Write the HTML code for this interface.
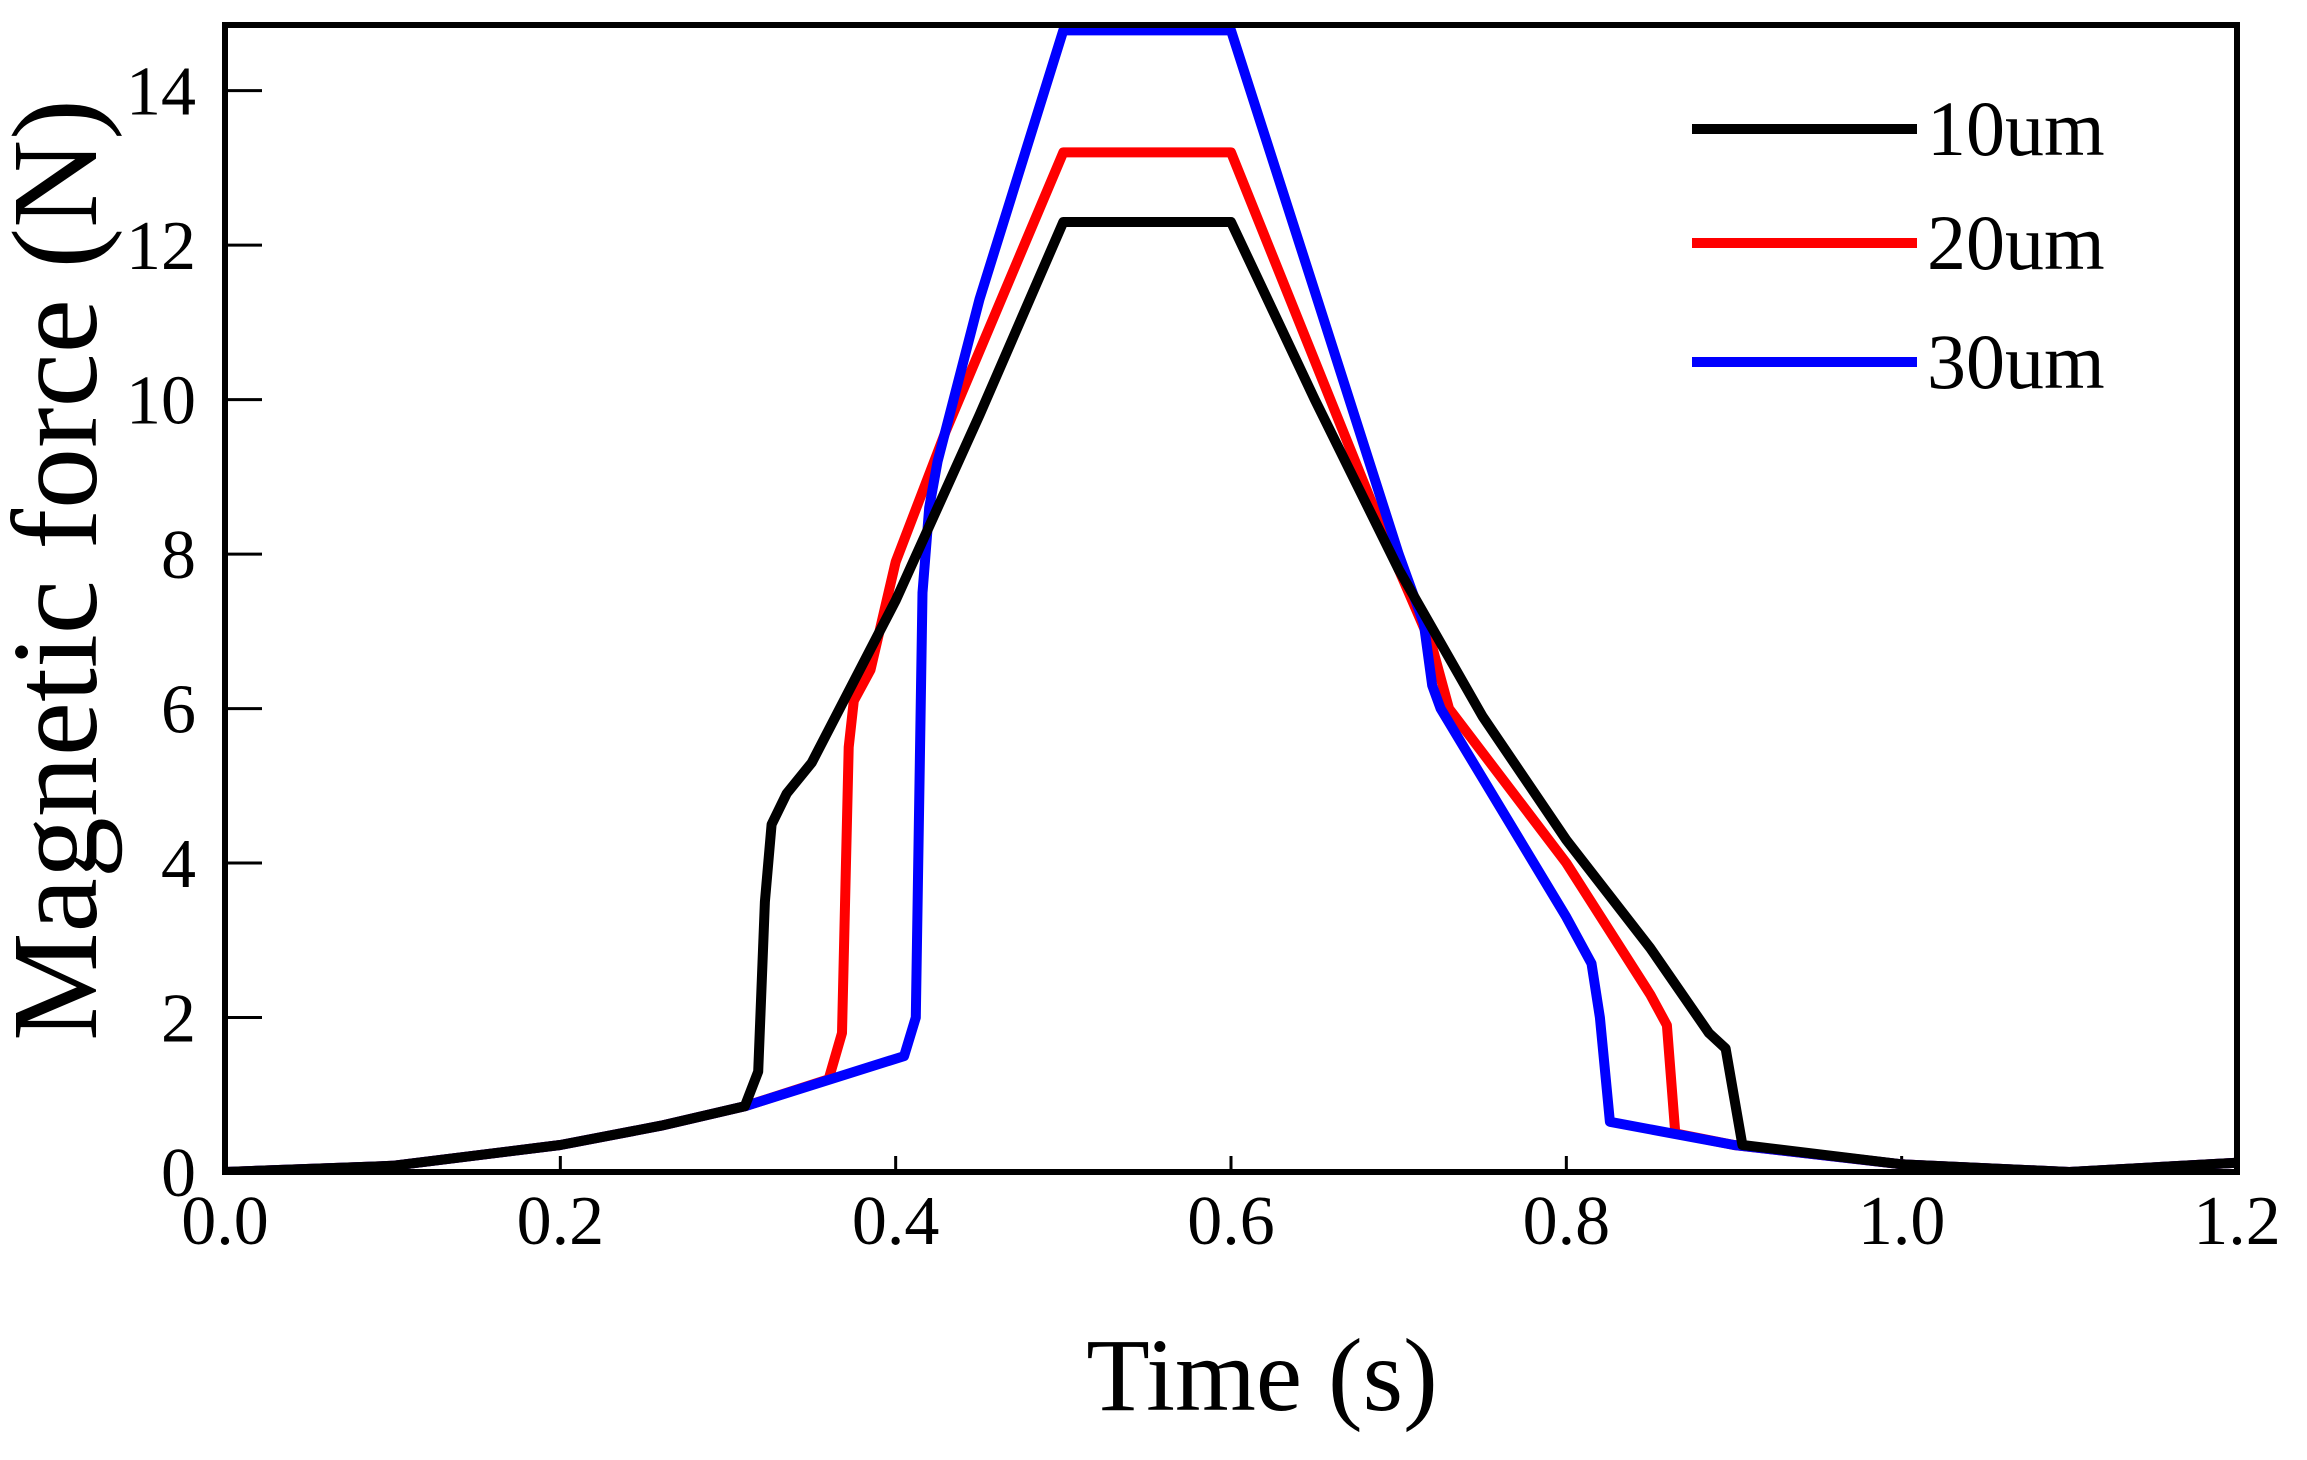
<!DOCTYPE html>
<html><head><meta charset="utf-8"><style>
html,body{margin:0;padding:0;background:#fff}
svg{display:block}
text{font-family:"Liberation Serif",serif;fill:#000}
</style></head><body>
<svg id="chart" width="2307" height="1460" viewBox="0 0 2307 1460"></svg>
<script>
const xTicks=[0.0,0.2,0.4,0.6,0.8,1.0,1.2];
const xTickLabels=["0.0","0.2","0.4","0.6","0.8","1.0","1.2"];
const yTicks=[0,2,4,6,8,10,12,14];
const yTickLabels=["0","2","4","6","8","10","12","14"];
const seriesNames=["10um","20um","30um"];
const seriesColors=["#000000","#ff0000","#0000ff"];
const t10=[0,0.1,0.2,0.26,0.31,0.318,0.322,0.326,0.335,0.35,0.4,0.45,0.5,0.6,0.65,0.7,0.75,0.8,0.85,0.885,0.895,0.905,1.0,1.1,1.2];
const v10=[0,0.08,0.35,0.6,0.85,1.3,3.5,4.5,4.9,5.3,7.4,9.8,12.3,12.3,10.0,7.8,5.9,4.3,2.9,1.8,1.6,0.35,0.1,0,0.12];
const t20=[0,0.1,0.2,0.26,0.31,0.36,0.368,0.372,0.375,0.385,0.4,0.43,0.5,0.6,0.65,0.7,0.72,0.73,0.8,0.85,0.86,0.865,0.9,1.0,1.1,1.2];
const v20=[0,0.08,0.35,0.6,0.85,1.2,1.8,5.5,6.1,6.5,7.9,9.6,13.2,13.2,10.5,7.8,6.8,6.0,4.0,2.3,1.9,0.5,0.35,0.1,0,0.12];
const t30=[0,0.1,0.2,0.26,0.31,0.405,0.412,0.416,0.42,0.425,0.45,0.5,0.6,0.65,0.7,0.715,0.72,0.725,0.8,0.815,0.82,0.826,0.9,1.0,1.1,1.2];
const v30=[0,0.08,0.35,0.6,0.85,1.5,2.0,7.5,8.6,9.2,11.3,14.78,14.78,11.4,8.0,7.1,6.3,6.0,3.3,2.7,2.0,0.65,0.35,0.1,0,0.12];
const seriesT=[t10,t20,t30], seriesV=[v10,v20,v30];

const L=225,R=2237,T=25,B=1172,XMAX=1.2,YMAX=14.85;
const X=v=>L+(v/XMAX)*(R-L);
const Y=v=>B-(v/YMAX)*(B-T);
const svg=document.getElementById('chart');
const NS='http://www.w3.org/2000/svg';
function mk(tag,attrs,parent){const e=document.createElementNS(NS,tag);for(const k in attrs)e.setAttribute(k,attrs[k]);(parent||svg).appendChild(e);return e;}

const defs=mk('defs',{});
const cp=mk('clipPath',{id:'clip'},defs);
mk('rect',{x:L,y:T,width:R-L,height:B-T},cp);

xTicks.forEach((v,i)=>{
  const tk=mk('line',{x1:X(v),x2:X(v),y1:B,y2:B-16,stroke:'#000','stroke-width':3});
  
  
  const lb=mk('text',{x:X(v),y:B+72,'font-size':70,'text-anchor':'middle'});
  lb.textContent=xTickLabels[i];
  
  
});
yTicks.forEach((v,i)=>{
  const tk=mk('line',{x1:L,x2:L+37,y1:Y(v),y2:Y(v),stroke:'#000','stroke-width':3});
  
  
  const lb=mk('text',{x:196,y:Y(v)+24,'font-size':70,'text-anchor':'end'});
  lb.textContent=yTickLabels[i];
  
  
});

const g=mk('g',{'clip-path':'url(#clip)'});
seriesT.forEach((ts,s)=>{
  const d=ts.map((t,i)=>(i?'L':'M')+X(t).toFixed(1)+','+Y(seriesV[s][i]).toFixed(1)).join(' ');
  const p=mk('path',{d:d,fill:'none',stroke:seriesColors[s],'stroke-width':10,'stroke-linejoin':'round'},g);
  
  
});
g.appendChild(g.children[0]);

const fr=mk('rect',{x:L,y:T,width:R-L,height:B-T,fill:'none',stroke:'#000','stroke-width':6});



const legY=[129,243,362];
seriesNames.forEach((n,i)=>{
  const ln=mk('line',{x1:1692,x2:1917,y1:legY[i],y2:legY[i],stroke:seriesColors[i],'stroke-width':10});
  
  
  const tx=mk('text',{x:1927,y:legY[i]+26,'font-size':78});
  tx.textContent=n;
  
  
});

const xt=mk('text',{x:1262,y:1410,'font-size':104,'text-anchor':'middle'});
xt.textContent='Time (s)';


const yt=mk('text',{x:0,y:0,'font-size':122,'text-anchor':'middle',transform:'translate(96,570) rotate(-90)'});
yt.textContent='Magnetic force (N)';


</script>
</body></html>
